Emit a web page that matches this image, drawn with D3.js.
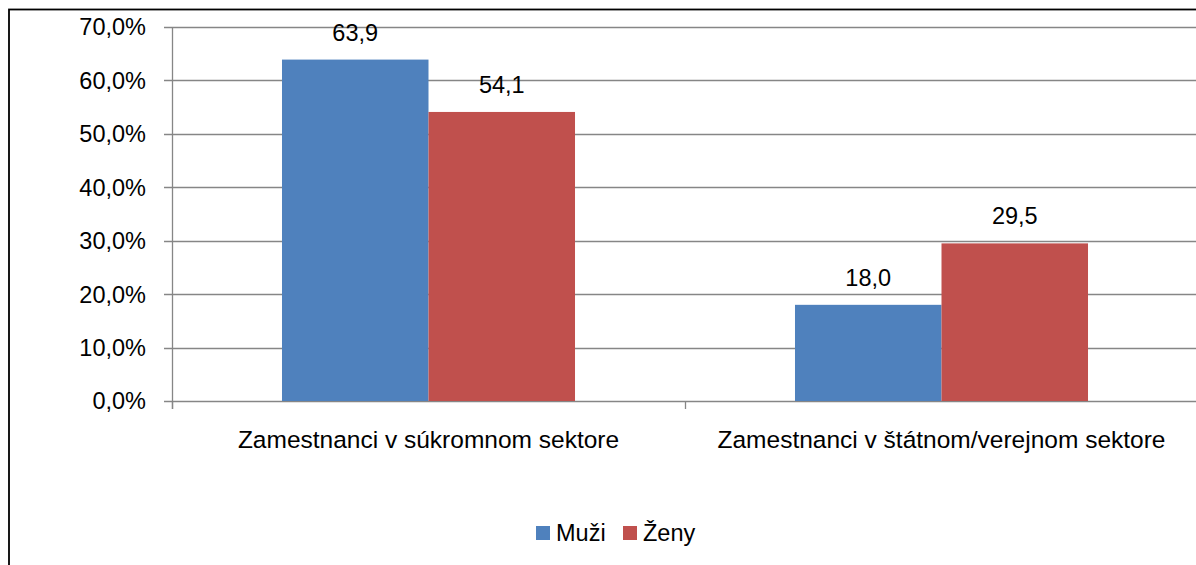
<!DOCTYPE html>
<html>
<head>
<meta charset="utf-8">
<script src="https://cdn.jsdelivr.net/npm/d3@7"></script>
<style>
  body { margin: 0; background: #fff; }
  svg text { font-family: "Liberation Sans", Arial, sans-serif; fill: #000; }
</style>
</head>
<body>
<div class="graf"></div>
<script>
const width = 1196;
const height = 565;
const margin = {top: 27, bottom: 164, left: 172, right: -2};

// podaci
const kategorije = ["Zamestnanci v súkromnom sektore", "Zamestnanci v štátnom/verejnom sektore"];
const serije = ["Muži", "Ženy"];
const muzi = [63.9, 18.0];
const zeny = [54.1, 29.5];
const yTicks = [0, 10, 20, 30, 40, 50, 60, 70];
const boje = ["#4F81BD", "#C0504D"];

const data = kategorije.map(function (k, i) {
    return {Name: k, values: [muzi[i], zeny[i]]};
});

const svg = d3.select(".graf").append("svg")
    .attr("width", width)
    .attr("height", height);

// okvir
svg.append("rect")
    .attr("x", 9).attr("y", 9.5)
    .attr("width", 1300).attr("height", 700)
    .attr("fill", "none")
    .attr("stroke", "#000")
    .attr("stroke-width", 1.8);

const xScale = d3.scaleBand()
    .domain(kategorije)
    .range([margin.left, width - margin.right])
    .paddingInner(0.4288)
    .paddingOuter(0.2144);

const x1 = d3.scaleBand()
    .domain(serije)
    .range([0, xScale.bandwidth()]);

const yScale = d3.scaleLinear()
    .domain([0, 70])
    .range([height - margin.bottom, margin.top]);

const y0 = yScale(0);

// mreza
svg.append("g").selectAll("line").data(yTicks)
    .enter().append("line")
    .attr("x1", margin.left - 8)
    .attr("x2", width + 5)
    .attr("y1", d => Math.round(yScale(d)) + 0.5)
    .attr("y2", d => Math.round(yScale(d)) + 0.5)
    .attr("stroke", "#868686")
    .attr("stroke-width", 1.3);

// os y
svg.append("line")
    .attr("x1", margin.left + 0.5).attr("x2", margin.left + 0.5)
    .attr("y1", yScale(70)).attr("y2", y0 + 8)
    .attr("stroke", "#868686").attr("stroke-width", 1.3);

svg.append("g").selectAll("text").data(yTicks)
    .enter().append("text")
    .attr("x", 146)
    .attr("y", d => yScale(d))
    .attr("dy", "0.36em")
    .attr("text-anchor", "end")
    .style("font-size", "23.5px")
    .text(d => d3.format(".1f")(d).replace(".", ",") + "%");

// kategorijske crtice
const granice = [margin.left].concat(kategorije.map(k => xScale(k) + xScale.bandwidth() + xScale.step() * 0.2144));
svg.append("g").selectAll("line").data(granice)
    .enter().append("line")
    .attr("x1", d => Math.round(d) + 0.5).attr("x2", d => Math.round(d) + 0.5)
    .attr("y1", y0).attr("y2", y0 + 8)
    .attr("stroke", "#868686").attr("stroke-width", 1.3);

// stupci
const grupe = svg.append("g").selectAll("g").data(data)
    .enter().append("g")
    .attr("transform", d => "translate(" + xScale(d.Name) + ",0)");

grupe.selectAll("rect").data(d => d.values.map((v, i) => ({serija: serije[i], value: v, i: i})))
    .enter().append("rect")
    .attr("x", d => x1(d.serija))
    .attr("y", d => yScale(d.value))
    .attr("width", x1.bandwidth())
    .attr("height", d => y0 - yScale(d.value))
    .attr("fill", d => boje[d.i]);

grupe.selectAll(".value_text").data(d => d.values.map((v, i) => ({serija: serije[i], value: v})))
    .enter().append("text")
    .attr("class", "value_text")
    .attr("x", d => x1(d.serija) + x1.bandwidth() / 2)
    .attr("y", d => yScale(d.value) - 19)
    .attr("text-anchor", "middle")
    .style("font-size", "23.5px")
    .text(d => d3.format(".1f")(d.value).replace(".", ","));

// nazivi kategorija
svg.append("g").selectAll("text").data(kategorije)
    .enter().append("text")
    .attr("x", d => xScale(d) + xScale.bandwidth() / 2)
    .attr("y", 448)
    .attr("text-anchor", "middle")
    .style("font-size", "24.5px")
    .text(d => d);

// legenda
const legenda = svg.append("g");
const legX = [536, 623];
serije.forEach(function (s, i) {
    legenda.append("rect")
        .attr("x", legX[i]).attr("y", 526)
        .attr("width", 14).attr("height", 14)
        .attr("fill", boje[i]);
    legenda.append("text")
        .attr("x", legX[i] + 20).attr("y", 541)
        .style("font-size", "23.5px")
        .text(s);
});
</script>
</body>
</html>
